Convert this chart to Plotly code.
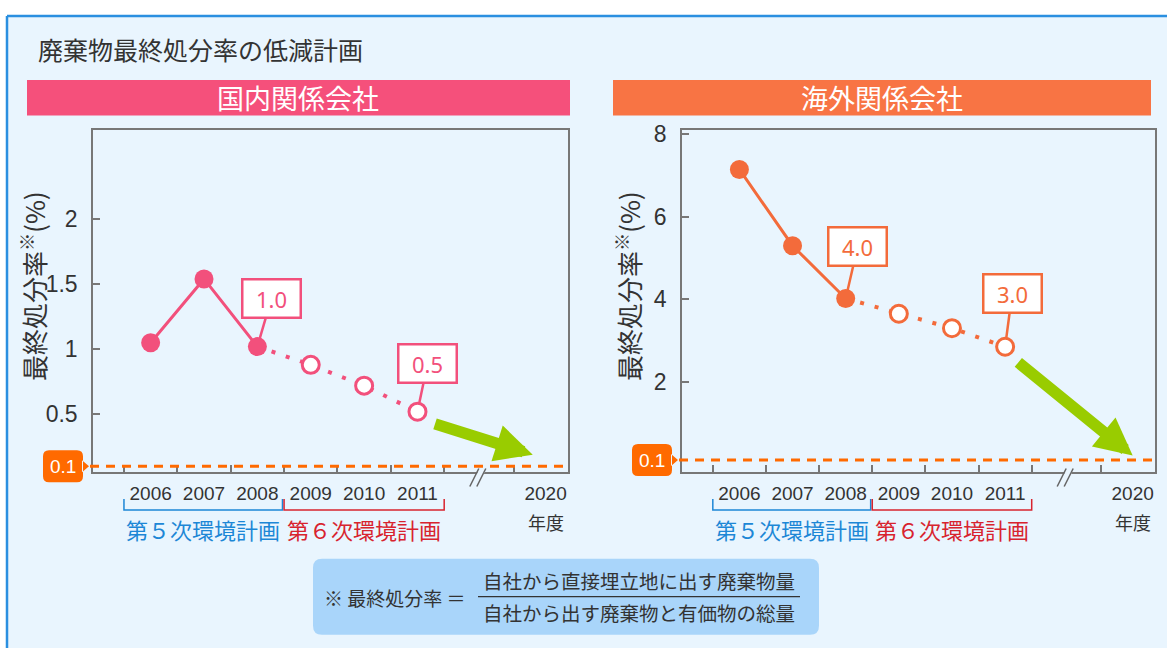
import plotly.graph_objects as go

# ---------------- data ----------------
years = [2006, 2007, 2008, 2009, 2010, 2011]
target_year = 2020
target_value = 0.1
n_actual = 3  # 2006-2008 are actual results, 2009-2011 are plan
domestic = [1.05, 1.54, 1.02, 0.88, 0.72, 0.52]
overseas = [7.15, 5.30, 4.02, 3.65, 3.30, 2.85]
domestic_callouts = {2008: "1.0", 2011: "0.5"}
overseas_callouts = {2008: "4.0", 2011: "3.0"}
domestic_yticks = [0.5, 1, 1.5, 2]
overseas_yticks = [2, 4, 6, 8]
title_text = "廃棄物最終処分率の低減計画"
panel_titles = ["国内関係会社", "海外関係会社"]
plan_labels = ["第５次環境計画", "第６次環境計画"]
y_title = "最終処分率<sup>※</sup>(%)"
fy_label = "年度"
formula_left = "※ 最終処分率 ＝"
formula_num = "自社から直接埋立地に出す廃棄物量"
formula_den = "自社から出す廃棄物と有価物の総量"

# ---------------- style ----------------
W, H = 1167, 648
def px(x): return x / W
def py(y): return 1 - y / H

PINK = "#f2507c"
ORANGE = "#f36b3b"
DASH_OR = "#ff6a00"
GREEN = "#99cc00"
BLUE_T = "#1d87d6"
RED_T = "#d8232e"
BG = "#e9f5fe"
TXT = "#333333"
AXC = "#777777"
NUM_FONT = "Liberation Sans, Noto Sans CJK JP"
CJK = "Noto Sans CJK JP"

BREAK_SHIFT = 6.6
def xpos(y):
    return y if y <= 2011 else y - BREAK_SHIFT

x_all = years + [target_year]
x_tickvals = [xpos(y) for y in x_all]
x_ticktext = [str(y) for y in x_all]
boundaries = [y - 0.5 for y in years] + [years[-1] + 0.5, xpos(target_year) - 0.6]
BREAK_X = 2012.13
X_RANGE = [2004.92, 2013.82]
L_DOM = [px(93), px(568)]
R_DOM = [px(682), px(1155)]
Y_DOM = [py(470), py(123)]
DOM_RANGE = [0.053, 2.682]
OVS_RANGE = [-0.2, 8.1]

def y_paper(v, rng):
    return Y_DOM[0] + (v - rng[0]) / (rng[1] - rng[0]) * (Y_DOM[1] - Y_DOM[0])

fig = go.Figure()

def add_series(vals, color, xa, ya):
    xs = years
    fig.add_trace(go.Scatter(x=xs[n_actual - 1:], y=vals[n_actual - 1:], mode="lines",
                             line=dict(color=color, width=4, dash="4px,11px"),
                             xaxis=xa, yaxis=ya, hoverinfo="skip"))
    fig.add_trace(go.Scatter(x=xs[:n_actual], y=vals[:n_actual], mode="lines+markers",
                             line=dict(color=color, width=3),
                             marker=dict(size=19, color=color),
                             xaxis=xa, yaxis=ya))
    fig.add_trace(go.Scatter(x=xs[n_actual:], y=vals[n_actual:], mode="markers",
                             marker=dict(size=17, color="white", line=dict(color=color, width=3)),
                             xaxis=xa, yaxis=ya))

add_series(domestic, PINK, "x", "y")
add_series(overseas, ORANGE, "x2", "y2")

common_x = dict(range=X_RANGE, tickvals=x_tickvals, ticktext=x_ticktext, ticks="",
                minor=dict(tickvals=boundaries, ticks="inside", ticklen=8, tickcolor=AXC,
                           tickwidth=1.5, showgrid=False),
                showline=True, mirror=True, linecolor=AXC, linewidth=1.5,
                showgrid=False, zeroline=False,
                tickfont=dict(family=NUM_FONT, size=19, color=TXT), ticklabelstandoff=3)
common_y = dict(ticks="inside", ticklen=7, tickcolor=AXC, tickwidth=1.5,
                showline=True, mirror=True, linecolor=AXC, linewidth=1.5,
                showgrid=False, zeroline=False,
                tickfont=dict(family=NUM_FONT, size=23, color=TXT), ticklabelstandoff=9)

fig.update_layout(
    width=W, height=H, margin=dict(l=0, r=0, t=0, b=0),
    paper_bgcolor="white", plot_bgcolor="white", showlegend=False,
    xaxis=dict(domain=L_DOM, anchor="y", **common_x),
    yaxis=dict(domain=Y_DOM, anchor="x", range=DOM_RANGE,
               tickvals=domestic_yticks, ticktext=[f"{v:g}" for v in domestic_yticks], **common_y),
    xaxis2=dict(domain=R_DOM, anchor="y2", **common_x),
    yaxis2=dict(domain=Y_DOM, anchor="x2", range=OVS_RANGE,
                tickvals=overseas_yticks, ticktext=[f"{v:g}" for v in overseas_yticks], **common_y),
)

def rrect(w, h, r, extra=""):
    hw, hh = w / 2, h / 2
    return (f"M {-hw + r},{-hh} L {hw - r},{-hh} Q {hw},{-hh} {hw},{-hh + r} "
            f"L {hw},{hh - r} Q {hw},{hh} {hw - r},{hh} L {-hw + r},{hh} "
            f"Q {-hw},{hh} {-hw},{hh - r} L {-hw},{-hh + r} Q {-hw},{-hh} {-hw + r},{-hh} Z" + extra)

shapes = []
ann = []
# background & border
shapes.append(dict(type="rect", xref="paper", yref="paper", x0=px(7), x1=1.01, y0=-0.01, y1=py(7),
                   fillcolor=BG, line=dict(width=0), layer="below"))
shapes.append(dict(type="line", xref="paper", yref="paper", x0=px(7), x1=1.01, y0=py(7), y1=py(7),
                   line=dict(color="#2a8fe0", width=2.5), layer="below"))
shapes.append(dict(type="line", xref="paper", yref="paper", x0=px(7), x1=px(7), y0=-0.01, y1=py(7),
                   line=dict(color="#2a8fe0", width=2.5), layer="below"))

ann.append(dict(text=title_text, xref="paper", yref="paper", x=px(36), y=py(41), xanchor="left",
                yanchor="middle", showarrow=False, font=dict(family=CJK, size=25, color=TXT)))

# banners
for (x0, x1), col, t in [((27, 570), "#f5507b", panel_titles[0]), ((613, 1151), "#f87444", panel_titles[1])]:
    shapes.append(dict(type="rect", xref="paper", yref="paper", x0=px(x0), x1=px(x1), y0=py(108), y1=py(72),
                       fillcolor=col, line=dict(width=0), layer="below"))
    ann.append(dict(text=t, xref="paper", yref="paper", x=px((x0 + x1) / 2), y=py(90), showarrow=False,
                    xanchor="center", yanchor="middle", font=dict(family=CJK, size=27, color="white")))

panels = [
    dict(xa="x", ya="y", vals=domestic, color=PINK, callouts=domestic_callouts, rng=DOM_RANGE,
         box_c=63, dash=(90, 566), ytitle_x=32,
         callout_off={2008: (14, -48), 2011: (10, -48)},
         arrow_start=(years[-1] + 0.3, domestic[-1] - 0.09),
         arrow_tip=(xpos(target_year) - 0.24, target_value + 0.09)),
    dict(xa="x2", ya="y2", vals=overseas, color=ORANGE, callouts=overseas_callouts, rng=OVS_RANGE,
         box_c=652, dash=(679, 1153), ytitle_x=627,
         callout_off={2008: (12, -52), 2011: (7, -53)},
         arrow_start=(years[-1] + 0.22, overseas[-1] - 0.35),
         arrow_tip=(xpos(target_year), target_value + 0.11)),
]

for p in panels:
    xref, yref = p["xa"], p["ya"]
    # y axis title
    ann.append(dict(text=y_title, xref="paper", yref="paper", x=px(p["ytitle_x"]), y=py(281),
                    textangle=-90, showarrow=False, xanchor="center", yanchor="middle",
                    font=dict(family=CJK, size=26, color=TXT)))
    # target dashed line
    shapes.append(dict(type="line", xref="paper", yref=yref, x0=px(p["dash"][0]), x1=px(p["dash"][1]),
                       y0=target_value, y1=target_value,
                       line=dict(color=DASH_OR, width=3, dash="9px,7px"), layer="above"))
    # 0.1 box (positioned through the axis scale)
    ty = y_paper(target_value, p["rng"])
    shapes.append(dict(type="path", xref="paper", yref="paper", xsizemode="pixel", ysizemode="pixel",
                       xanchor=px(p["box_c"]), yanchor=ty,
                       path=rrect(40, 32, 6, " M 19,6 L 26,0 L 19,-6 Z"),
                       fillcolor=DASH_OR, line=dict(width=0), layer="above"))
    ann.append(dict(text=f"{target_value:g}", xref="paper", yref="paper", x=px(p["box_c"]), y=ty,
                    xanchor="center", yanchor="middle",
                    showarrow=False, font=dict(family=NUM_FONT, size=19, color="white")))
    # callouts
    for yr, txt in p["callouts"].items():
        i = years.index(yr)
        ox, oy = p["callout_off"][yr]
        ann.append(dict(text=txt, xref=xref, yref=yref, x=yr, y=p["vals"][i], ax=ox, ay=oy,
                        showarrow=True, arrowhead=0, arrowwidth=2.5, arrowcolor=p["color"], standoff=8,
                        bgcolor="white", bordercolor=p["color"], borderwidth=2.5, borderpad=3,
                        width=50, height=30,
                        font=dict(family="Noto Sans", size=22, color=p["color"])))
    # green arrow to 2020 target
    ann.append(dict(text="", xref=xref, yref=yref, x=p["arrow_tip"][0], y=p["arrow_tip"][1],
                    axref=xref, ayref=yref, ax=p["arrow_start"][0], ay=p["arrow_start"][1],
                    showarrow=True, arrowhead=2, arrowsize=0.65, arrowwidth=11.5, arrowcolor=GREEN))
    # axis break //
    shapes.append(dict(type="path", xref=xref, yref="paper", xsizemode="pixel", ysizemode="pixel",
                       xanchor=BREAK_X, yanchor=Y_DOM[0],
                       path="M -1.5,-2.5 L 5.5,-2.5 L 7.8,2 L 0.8,2 Z",
                       fillcolor=BG, line=dict(width=0), layer="above"))
    for path in ["M -8,-14 L 1,4", "M -1,-14 L 8,4"]:
        shapes.append(dict(type="path", xref=xref, yref="paper", xsizemode="pixel", ysizemode="pixel",
                           xanchor=BREAK_X, yanchor=Y_DOM[0], path=path,
                           line=dict(color="#666666", width=1.5), layer="above"))
    # plan brackets
    for (a, b), col, lab in [((years[0] - 0.5, years[n_actual - 1] + 0.47), BLUE_T, plan_labels[0]),
                             ((years[n_actual - 1] + 0.5, years[-1] + 0.5), RED_T, plan_labels[1])]:
        shapes.append(dict(type="path", xref=xref, yref="paper",
                           path=f"M {a},{py(497)} L {a},{py(508)} L {b},{py(508)} L {b},{py(497)}",
                           line=dict(color=col, width=1.5)))
        ann.append(dict(text=lab, xref=xref, yref="paper", x=(a + b) / 2, y=py(527), showarrow=False,
                        xanchor="center", yanchor="middle", font=dict(family=CJK, size=22, color=col)))
    ann.append(dict(text=fy_label, xref=xref, yref="paper", x=xpos(target_year), y=py(520), showarrow=False,
                    xanchor="center", yanchor="middle", font=dict(family=CJK, size=18, color=TXT)))

# formula box
shapes.append(dict(type="path", xref="paper", yref="paper", xsizemode="pixel", ysizemode="pixel",
                   xanchor=px(566), yanchor=py(596), path=rrect(506, 76, 9),
                   fillcolor="#a9d5fa", line=dict(width=0), layer="below"))
ann.append(dict(text=formula_left, xref="paper", yref="paper", x=px(322), y=py(597), xanchor="left",
                yanchor="middle", showarrow=False, font=dict(family=CJK, size=19, color=TXT)))
ann.append(dict(text=formula_num, xref="paper", yref="paper", x=px(639), y=py(580), xanchor="center",
                yanchor="middle", showarrow=False, font=dict(family=CJK, size=19.5, color=TXT)))
ann.append(dict(text=formula_den, xref="paper", yref="paper", x=px(639), y=py(612), xanchor="center",
                yanchor="middle", showarrow=False, font=dict(family=CJK, size=19.5, color=TXT)))
shapes.append(dict(type="line", xref="paper", yref="paper", x0=px(478), x1=px(800), y0=py(596), y1=py(596),
                   line=dict(color=TXT, width=1.2)))

fig.update_layout(shapes=shapes, annotations=ann)
fig.write_html("out.html")
